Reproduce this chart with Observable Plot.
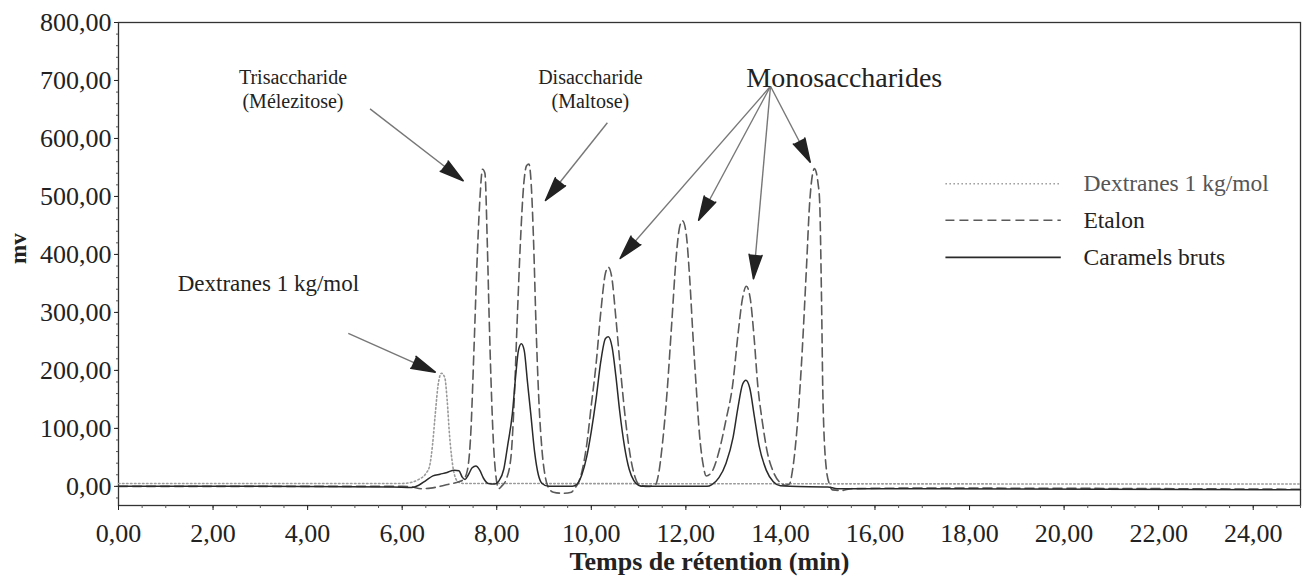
<!DOCTYPE html>
<html><head><meta charset="utf-8">
<script src="https://cdn.jsdelivr.net/npm/d3@7"></script>
<script src="https://cdn.jsdelivr.net/npm/@observablehq/plot@0.6"></script>
<style>html,body{margin:0;padding:0;background:#fff}</style>
</head><body><div id="chart"></div>
<script>
// ---- data (retention time in min, signal in mV) ----
const dextranes = [[0,5],[6.0,5],[6.2,7],[6.35,12],[6.5,22],[6.58,35],[6.64,70],[6.7,125],[6.76,175],[6.83,195],[6.9,188],[6.95,150],[7.0,90],[7.04,55],[7.1,22],[7.18,8],[7.3,5],[25,4]];
const etalon = [[0,0],[3,0],[6.0,0],[6.2,-1],[6.4,-4],[6.6,-3],[6.8,0],[7.0,4],[7.2,8],[7.3,12],[7.38,28],[7.45,90],[7.52,240],[7.58,380],[7.64,490],[7.7,547],[7.75,540],[7.8,420],[7.84,290],[7.88,180],[7.93,75],[7.98,20],[8.04,-4],[8.1,0],[8.2,12],[8.3,50],[8.37,150],[8.43,280],[8.5,420],[8.57,520],[8.63,553],[8.68,556],[8.73,520],[8.78,420],[8.83,280],[8.89,150],[8.96,60],[9.03,15],[9.1,-3],[9.2,-10],[9.4,-12],[9.58,-10],[9.65,-3],[9.72,5],[9.8,25],[9.9,70],[10.0,140],[10.1,210],[10.2,300],[10.3,368],[10.36,378],[10.43,362],[10.52,290],[10.63,190],[10.73,110],[10.83,50],[10.93,15],[11.02,2],[11.2,0],[11.35,2],[11.42,20],[11.5,70],[11.6,160],[11.7,280],[11.8,400],[11.87,448],[11.93,458],[12.0,440],[12.08,360],[12.15,260],[12.22,170],[12.29,88],[12.36,40],[12.43,18],[12.55,25],[12.7,60],[12.85,115],[12.99,175],[13.1,260],[13.2,325],[13.28,345],[13.36,325],[13.44,260],[13.52,175],[13.62,110],[13.72,60],[13.85,25],[14.0,6],[14.1,2],[14.19,4],[14.26,30],[14.34,89],[14.44,204],[14.55,376],[14.62,491],[14.72,548],[14.8,520],[14.83,491],[14.87,320],[14.9,150],[14.97,31],[15.04,3],[15.1,-6],[15.3,-7],[15.5,-4],[17,-3],[25,-5]];
const caramels = [[0,0],[3,0],[5.8,-1],[6.2,-2],[6.35,2],[6.5,10],[6.65,18],[6.8,21],[6.95,24],[7.1,28],[7.2,27],[7.27,16],[7.33,12],[7.4,20],[7.48,32],[7.56,35],[7.64,28],[7.72,14],[7.82,5],[7.95,4],[8.05,10],[8.15,30],[8.23,70],[8.33,125],[8.4,190],[8.46,235],[8.52,246],[8.58,235],[8.65,180],[8.72,125],[8.8,60],[8.88,20],[8.96,5],[9.1,0],[9.6,0],[9.7,4],[9.8,20],[9.9,50],[10.0,95],[10.1,150],[10.2,215],[10.3,255],[10.36,258],[10.44,240],[10.52,190],[10.6,130],[10.7,70],[10.8,30],[10.9,10],[11.0,2],[11.1,0],[12.45,0],[12.55,3],[12.7,15],[12.85,40],[13.0,85],[13.1,135],[13.2,176],[13.27,183],[13.35,170],[13.45,120],[13.55,70],[13.7,28],[13.85,8],[14.0,1],[14.2,0],[15.0,-1],[15.2,-4],[17,-4],[25,-6]];

const seriesNames = ["Dextranes 1 kg/mol", "Etalon", "Caramels bruts"];
const legendY = [522, 459, 395];
const legendX = [17.49, 19.93, 20.41];

const xTicks = [0,2,4,6,8,10,12,14,16,18,20,22,24];
const yTicks = [0,100,200,300,400,500,600,700,800];

// annotations
const labelTexts = ["Trisaccharide", "(Mélezitose)", "Disaccharide", "(Maltose)"];
const labelX = [3.69, 3.69, 9.98, 9.98];
const labelY = [705, 664, 705, 664];
const dexLabel = {text: "Dextranes 1 kg/mol", x: 3.17, y: 350};
const monoLabel = {text: "Monosaccharides", x: 15.35, y: 705};
const arrowFrom = [[5.32,651],[10.34,627],[4.86,264],[13.79,690],[13.79,690],[13.79,690],[13.79,690]];
const arrowTo = [[7.29,527],[9.03,493],[6.70,197],[10.61,393],[12.27,459],[13.43,358],[14.63,559]];

// ---- layout ----
const W = 1302, H = 582, mL = 118, mR = 2, mT = 22, mB = 77;
const xDomain = [0, 25], yDomain = [-33, 800];
const xS = d3.scaleLinear(xDomain, [mL, W - mR]);
const yS = d3.scaleLinear(yDomain, [H - mB, mT]);
const fmt = d => d3.format(".2f")(d).replace(".", ",");

const styles = [
  {stroke: "#9a9a9a", dash: "1.5,2.5", width: 1.6},
  {stroke: "#5a5a5a", dash: "9,5", width: 1.6},
  {stroke: "#2a2a2a", dash: null, width: 1.5}
];
const allSeries = [dextranes, etalon, caramels];

const arrows = arrowFrom.map((f, i) => {
  const t = arrowTo[i];
  const dx = xS(t[0]) - xS(f[0]), dy = yS(t[1]) - yS(f[1]);
  return {x1: f[0], y1: f[1], x2: t[0], y2: t[1], angle: Math.atan2(dx, -dy) * 180 / Math.PI};
});
const labels = labelTexts.map((t, i) => ({text: t, x: labelX[i], y: labelY[i]}));

const marks = [
  Plot.frame({stroke: "#333", strokeWidth: 1.3}),
  Plot.axisY(d3.range(-20, 801, 20), {tickSize: 2, tickFormat: () => "", label: null, stroke: "#555"}),
  Plot.axisY(yTicks, {tickSize: 4, tickPadding: 3, tickFormat: fmt, label: null}),
  Plot.axisX(d3.range(0, 25.01, 0.5), {tickSize: 3, tickFormat: () => "", label: null, stroke: "#555"}),
  Plot.axisX(xTicks, {tickSize: 5, tickPadding: 13, tickFormat: fmt, label: null}),
  Plot.text(["mv"], {frameAnchor: "left", dx: -100, rotate: -90, text: d => d, fontWeight: "bold", fontSize: 23}),
  Plot.text(["Temps de rétention (min)"], {frameAnchor: "bottom", dy: 64, text: d => d, fontWeight: "bold", fontSize: 26})
];
allSeries.forEach((s, i) => {
  marks.push(Plot.line(s, {x: d => d[0], y: d => d[1], stroke: styles[i].stroke, strokeWidth: styles[i].width,
    strokeDasharray: styles[i].dash, curve: "monotone-x"}));
});
marks.push(
  Plot.link(arrows, {x1: "x1", y1: "y1", x2: "x2", y2: "y2", stroke: "#777", strokeWidth: 1.4}),
  Plot.vector(arrows, {x: "x2", y: "y2", rotate: "angle", length: 24, r: 6.5, shape: "spike", anchor: "end", fill: "#222", stroke: "#222"}),
  Plot.text(labels, {x: "x", y: "y", text: "text", fontSize: 20, fill: "#222"}),
  Plot.text([dexLabel], {x: "x", y: "y", text: "text", fontSize: 23, fill: "#222"}),
  Plot.text([monoLabel], {x: "x", y: "y", text: "text", fontSize: 28, fill: "#222"})
);
seriesNames.forEach((n, i) => {
  marks.push(
    Plot.link([legendY[i]], {x1: () => legendX[0], x2: () => legendX[1], y1: d => d, y2: d => d,
      stroke: styles[i].stroke, strokeDasharray: styles[i].dash, strokeWidth: 1.6}),
    Plot.text([n], {x: () => legendX[2], y: () => legendY[i], text: d => d, textAnchor: "start", fontSize: 23.5,
      fill: i === 0 ? "#555" : "#222"})
  );
});

const chart = Plot.plot({
  width: W, height: H, marginLeft: mL, marginRight: mR, marginTop: mT, marginBottom: mB,
  x: {domain: xDomain}, y: {domain: yDomain},
  style: {fontFamily: "'Liberation Serif', 'Times New Roman', serif", fontSize: "26px", color: "#222", background: "#fff"},
  marks
});
document.getElementById("chart").append(chart);
</script>
</body></html>
